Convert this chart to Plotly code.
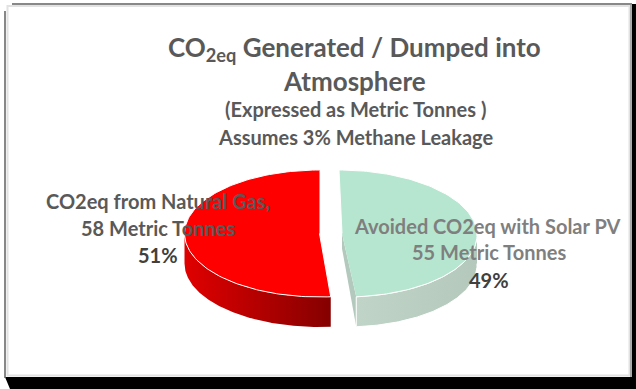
import numpy as np
import plotly.graph_objects as go

# Chart content
categories = ["CO2eq from Natural Gas,", "Avoided CO2eq with Solar PV"]
value_captions = ["58 Metric Tonnes", "55 Metric Tonnes"]
tonnes = [58, 55]
title_lines = [
    "CO<sub>2eq</sub> Generated / Dumped into",
    "Atmosphere",
    "(Expressed as Metric Tonnes )",
    "Assumes 3% Methane Leakage",
]

# Pie projection, in page pixels
WIDTH, HEIGHT = 636, 389
RX, RY, DEPTH = 135.0, 63.5, 30.0
CY = 233.5
GAS_X, GAS_SKEW = 319.5, 0.0
SOLAR_X, SOLAR_SKEW = 342.0, 3.0

FONT = "Lato, Carlito, sans-serif"
TEXT_GREY = "#595959"
TEXT_DARK = "#404040"
TEXT_LIGHT = "#7f7f7f"

share = np.array(tonnes, dtype=float) / sum(tonnes)
solar_sweep = share[1] * 360.0


def rim(cx, skew, start_deg, end_deg, drop=0.0, n=120):
    """Points along the projected circle; 0 deg is up, angles run clockwise."""
    t = np.radians(np.linspace(start_deg, end_deg, n))
    return cx + RX * np.sin(t) - skew * np.cos(t), CY + drop - RY * np.cos(t)


fig = go.Figure()


def add_area(x, y, color=None, gradient=None, line=None):
    kw = dict(fillgradient=gradient) if gradient else dict(fillcolor=color)
    fig.add_trace(go.Scatter(
        x=np.asarray(x), y=np.asarray(y), mode="lines", fill="toself",
        line=line or dict(width=0), hoverinfo="skip", showlegend=False, **kw))


WHITE_EDGE = dict(color="#ffffff", width=1)

# Natural gas slice: outer wall, then the top face
gx, gy = rim(GAS_X, GAS_SKEW, solar_sweep, 270.0)
gx_low, gy_low = rim(GAS_X, GAS_SKEW, solar_sweep, 270.0, DEPTH)
add_area(
    np.r_[gx, gx_low[::-1]], np.r_[gy, gy_low[::-1]],
    gradient=dict(type="horizontal", colorscale=[[0, "#e00000"], [0.5, "#b40000"], [1, "#850000"]]),
)
gx, gy = rim(GAS_X, GAS_SKEW, solar_sweep, 360.0)
add_area(np.r_[GAS_X, gx], np.r_[CY, gy], color="#ff0000", line=WHITE_EDGE)

# Solar slice: cut face and outer wall, then the top face
sx, sy = rim(SOLAR_X, SOLAR_SKEW, 90.0, solar_sweep)
sx_low, sy_low = rim(SOLAR_X, SOLAR_SKEW, 90.0, solar_sweep, DEPTH)
add_area(
    [SOLAR_X, sx[-1], sx_low[-1], SOLAR_X],
    [CY, sy[-1], sy_low[-1], CY + DEPTH * 0.5],
    color="#b4c9bd",
)
add_area(
    np.r_[sx, sx_low[::-1]], np.r_[sy, sy_low[::-1]],
    gradient=dict(type="horizontal", colorscale=[[0, "#c0d4c8"], [1, "#b4c8bc"]]),
    line=WHITE_EDGE,
)
sx, sy = rim(SOLAR_X, SOLAR_SKEW, 0.0, solar_sweep)
add_area(np.r_[SOLAR_X, sx], np.r_[CY, sy], color="#b7e6d0", line=WHITE_EDGE)


# Text
def label(text, x, y, size, color=TEXT_GREY):
    fig.add_annotation(
        x=x, y=y, text=f"<b>{text}</b>", showarrow=False, xanchor="center", yanchor="middle",
        font=dict(family=FONT, size=size, color=color), align="center")


label(title_lines[0], 354, 48, 26)
label(title_lines[1], 354, 81, 26)
label(title_lines[2], 355, 109, 20)
label(title_lines[3], 355, 137, 20)

pct = [f"{round(s * 100)}%" for s in share]
label(categories[0], 157.5, 201, 20)
label(value_captions[0], 158, 228, 20)
label(pct[0], 158, 255, 20, TEXT_DARK)
label(categories[1], 487, 226, 20, TEXT_LIGHT)
label(value_captions[1], 489, 252, 20, TEXT_LIGHT)
label(pct[1], 489, 280, 20, TEXT_DARK)

# Chart frame with its drop shadow
shapes = [
    dict(type="path", path="M 5 377 L 632 377 L 632 4 L 636 4 L 636 389 L 10 389 Z",
         fillcolor="#000000", line=dict(width=0), layer="below"),
    dict(type="rect", x0=6, y0=5, x1=631, y1=377, fillcolor="#ffffff",
         line=dict(width=0), layer="below"),
    dict(type="rect", x0=7.5, y0=6, x1=629.5, y1=375.5, fillcolor="rgba(0,0,0,0)",
         line=dict(color="#e2e2e2", width=2), layer="below"),
    dict(type="line", x0=12, y0=4, x1=632, y1=4, line=dict(color="#606060", width=1.5), layer="below"),
    dict(type="line", x0=5, y0=11, x1=5, y1=378, line=dict(color="#606060", width=1.5), layer="below"),
    dict(type="line", x0=631, y0=4, x1=631, y1=377, line=dict(color="#909090", width=1.5), layer="below"),
]

fig.update_layout(
    width=WIDTH, height=HEIGHT, margin=dict(l=0, r=0, t=0, b=0),
    paper_bgcolor="#ffffff", plot_bgcolor="rgba(0,0,0,0)", shapes=shapes,
    xaxis=dict(range=[0, WIDTH], visible=False, fixedrange=True),
    yaxis=dict(range=[HEIGHT, 0], visible=False, fixedrange=True),
    showlegend=False,
)
fig.write_html("out.html", config=dict(displayModeBar=False))
